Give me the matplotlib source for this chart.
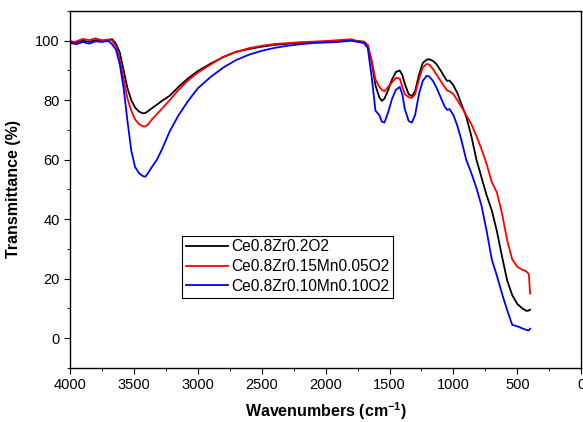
import matplotlib
matplotlib.use("Agg")
import matplotlib.pyplot as plt
from matplotlib.ticker import MultipleLocator

plt.rcParams['font.family'] = ['Liberation Sans', 'DejaVu Sans']
plt.rcParams['mathtext.fontset'] = 'custom'
plt.rcParams['mathtext.rm'] = 'Liberation Sans'
plt.rcParams['mathtext.bf'] = 'Liberation Sans:bold'

# FTIR spectra
wavenumber = [4000, 3950, 3900, 3850, 3800, 3750, 3700, 3670, 3640, 3610,
              3580, 3550, 3520, 3490, 3460, 3430, 3410, 3390, 3360, 3320,
              3280, 3220, 3150, 3080, 3000, 2900, 2800, 2700, 2600, 2500,
              2400, 2300, 2200, 2100, 2000, 1900, 1800, 1750, 1700, 1670,
              1640, 1610, 1580, 1560, 1540, 1510, 1480, 1450, 1420, 1400,
              1380, 1350, 1325, 1300, 1270, 1240, 1210, 1190, 1160, 1130,
              1100, 1070, 1050, 1030, 1000, 970, 940, 900, 860, 820,
              780, 740, 700, 660, 620, 580, 540, 500, 460, 430,
              410, 400]

t_czo = [99.8, 99.5, 100.0, 99.6, 100.2, 100.0, 100.3, 100.5, 99.0, 96.0,
         90.0, 84.0, 80.0, 77.5, 76.2, 75.6, 75.7, 76.3, 77.3, 78.5,
         79.8, 81.5, 84.5, 87.2, 89.8, 92.3, 94.5, 96.3, 97.2, 98.0,
         98.6, 99.0, 99.3, 99.5, 99.6, 99.8, 100.2, 99.9, 99.7, 98.5,
         93.0, 85.0, 81.0, 79.8, 80.5, 83.5, 87.0, 89.5, 90.0, 88.5,
         85.5, 82.0, 81.4, 83.0, 88.5, 92.5, 93.6, 93.8, 93.2, 92.0,
         90.0, 87.8, 86.5, 86.6, 85.0, 82.5, 79.0, 74.5, 68.0, 60.0,
         54.0, 48.0, 43.0, 36.0, 27.5, 19.5, 14.5, 11.5, 10.0, 9.2,
         9.3, 9.6]

t_mn005 = [99.2, 99.8, 100.6, 100.2, 100.8, 100.1, 100.4, 100.0, 98.2, 93.5,
           87.0, 80.5, 76.5, 73.5, 72.0, 71.2, 71.2, 71.8, 73.5, 75.3,
           77.2, 80.0, 83.5, 86.5, 89.3, 92.0, 94.6, 96.2, 97.5, 98.3,
           98.9, 99.2, 99.5, 99.7, 99.9, 100.2, 100.5, 99.8, 99.5, 98.5,
           93.5, 87.0, 84.5, 83.5, 83.0, 84.5, 86.0, 87.5, 87.3, 84.5,
           82.0, 81.0, 80.8, 82.0, 87.0, 91.0, 92.2, 92.0, 90.5, 88.5,
           86.5, 84.5, 83.3, 83.0, 82.0, 80.0, 78.0, 75.0, 72.0, 68.0,
           63.5, 58.5, 52.5, 49.0, 42.0, 33.0, 26.5, 24.0, 23.0, 22.5,
           21.5, 15.0]

t_mn010 = [99.3, 98.8, 99.6, 99.0, 99.8, 99.6, 99.9, 98.8, 97.0, 92.0,
           84.0, 73.0, 63.0, 57.5, 55.5, 54.5, 54.3, 55.5, 57.5, 60.0,
           63.5, 69.5, 75.0, 79.5, 84.0, 87.8, 91.0, 93.5, 95.3, 96.6,
           97.6, 98.3, 98.8, 99.2, 99.4, 99.6, 100.0, 99.6, 99.2, 97.5,
           88.0, 76.5, 75.0, 72.8, 72.5, 76.0, 80.5, 83.5, 84.5, 82.0,
           77.0, 73.0, 72.5, 75.0, 82.0, 86.5, 88.2, 88.0, 86.5, 84.0,
           81.0, 78.0, 76.8, 77.0, 75.0, 71.5, 67.0, 60.0, 55.5, 50.5,
           44.5, 36.0, 26.5, 21.0, 15.0, 9.5, 4.5, 4.0, 3.3, 2.8,
           2.6, 3.2]

labels = ['Ce0.8Zr0.2O2', 'Ce0.8Zr0.15Mn0.05O2', 'Ce0.8Zr0.10Mn0.10O2']
colors = ['black', 'red', 'blue']

fig = plt.figure(figsize=(5.83, 4.22), dpi=100)
ax = fig.add_axes([0.120, 0.128, 0.877, 0.846])

for t, lab, c in zip([t_czo, t_mn005, t_mn010], labels, colors):
    ax.plot(wavenumber, t, color=c, lw=1.3, label=lab)

ax.set_xlim(4000, 0)
ax.set_ylim(-10, 110)
ax.xaxis.set_major_locator(MultipleLocator(500))
ax.xaxis.set_minor_locator(MultipleLocator(250))
ax.yaxis.set_major_locator(MultipleLocator(20))
ax.yaxis.set_minor_locator(MultipleLocator(10))
ax.tick_params(which='both', direction='out', labelsize=10.5)
ax.tick_params(which='major', length=4)
ax.tick_params(which='minor', length=2.5)
for s in ax.spines.values():
    s.set_linewidth(1.0)

ax.set_xlabel('Wavenumbers (cm$^{\\mathbf{-1}}$)', fontsize=11.5, fontweight='bold', labelpad=6)
ax.set_ylabel('Transmittance (%)', fontsize=11.5, fontweight='bold', labelpad=10)

leg = ax.legend(loc='lower left', bbox_to_anchor=(0.219, 0.197), fontsize=11.2,
                frameon=True, fancybox=False, edgecolor='black', framealpha=1,
                handlelength=2.7, handletextpad=0.2, labelspacing=0.3,
                borderpad=0.25, borderaxespad=0)
leg.get_frame().set_linewidth(0.8)

fig.savefig('out.png', dpi=100)
